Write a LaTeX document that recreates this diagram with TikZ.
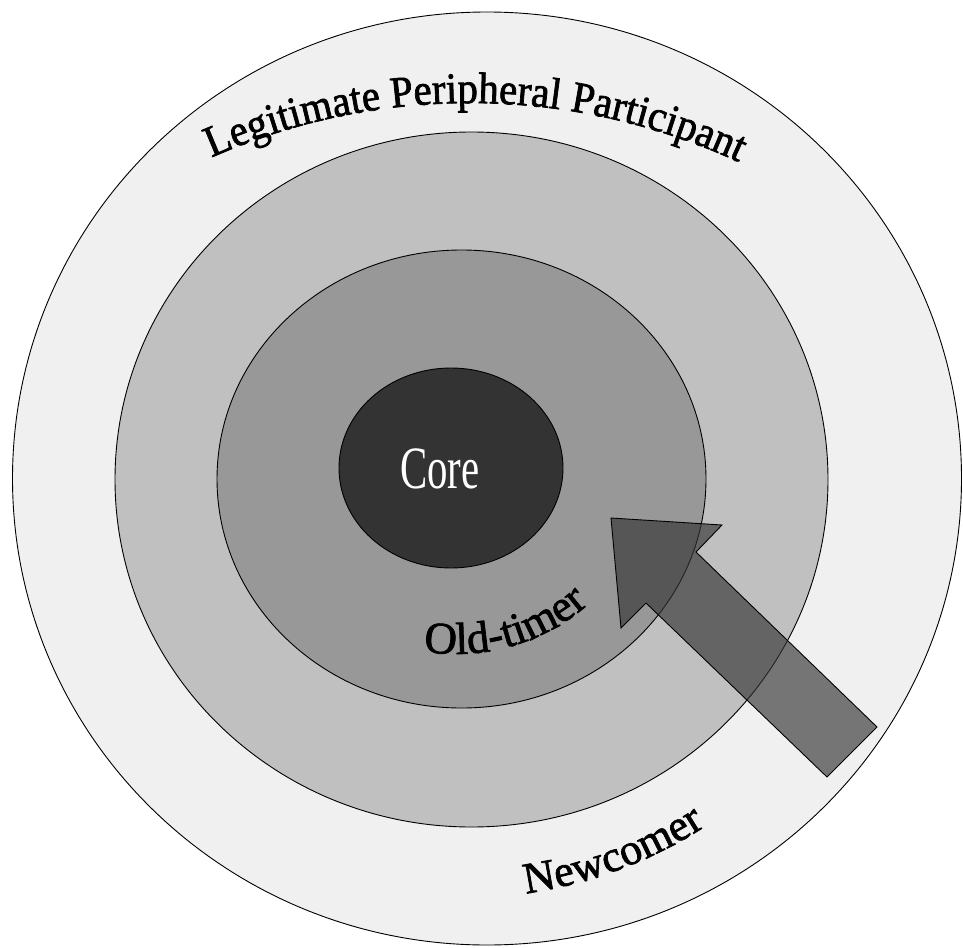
\documentclass[tikz,border=0pt]{standalone}
\usepackage{fontspec}
\setmainfont{Liberation Serif}
\newfontfamily\archfont[FakeStretch=0.93, FakeBold=1.6]{Liberation Serif}
\newfontfamily\ringfont[FakeBold=1.6]{Liberation Serif}
\newfontfamily\corefont[FakeStretch=0.68]{Liberation Serif}
\usetikzlibrary{shapes.geometric, decorations.text}
\definecolor{ringout}{RGB}{240,240,240}
\definecolor{ringmid}{RGB}{192,192,192}
\definecolor{ringin}{RGB}{152,152,152}
\definecolor{coregray}{RGB}{51,51,51}
\definecolor{arrowgray}{RGB}{52,52,52}

\begin{document}
\begin{tikzpicture}[
  x=1pt, y=1pt,
  band/.style={ellipse, draw=black, line width=0.9pt, inner sep=0pt},
  bigarr/.style={draw=black, line width=0.9pt, fill=arrowgray, fill opacity=0.65},
  arctext/.style={decorate, decoration={text along path, text align=center, text={#1}}},
]
\fill[white] (0,0) rectangle (963,-947);
\useasboundingbox (0,0) rectangle (963,-947);

% Rings
\node[band, fill=ringout, minimum width=949pt, minimum height=933pt] (outer) at (487,-478.5) {};
\node[band, fill=ringmid, minimum width=713pt, minimum height=695pt] (middle) at (471.5,-479.5) {};
\node[band, fill=ringin, minimum width=489pt, minimum height=458pt] (inner) at (461.5,-479) {};
\node[band, fill=coregray, minimum width=224pt, minimum height=200pt] (core) at (451,-468) {};

\node[anchor=base, text=white, inner sep=0pt, font=\corefont\fontsize{60}{60}\selectfont] (corelabel) at (440,-488) {Core};

% Curved labels
\path[arctext={|\archfont\fontsize{44}{44}\selectfont|Legitimate Peripheral Participant}]
  ([shift={(116:640pt)}]470,-743) arc[start angle=116, end angle=63, radius=640pt];
\path[arctext={|\ringfont\fontsize{45}{45}\selectfont|Old-timer}]
  ([shift={(-103:201pt)}]456,-453) arc[start angle=-103, end angle=-45, radius=201pt];
\path[arctext={|\ringfont\fontsize{44}{44}\selectfont|Newcomer}]
  ([shift={(-84:449pt)}]462,-449) arc[start angle=-84, end angle=-55, radius=449pt];

% Arrow
\draw[bigarr] (611,-518) -- (722,-525) -- (696,-552) -- (877,-727)
  -- (827,-777) -- (646,-603) -- (621,-628) -- cycle;

\end{tikzpicture}
\end{document}
